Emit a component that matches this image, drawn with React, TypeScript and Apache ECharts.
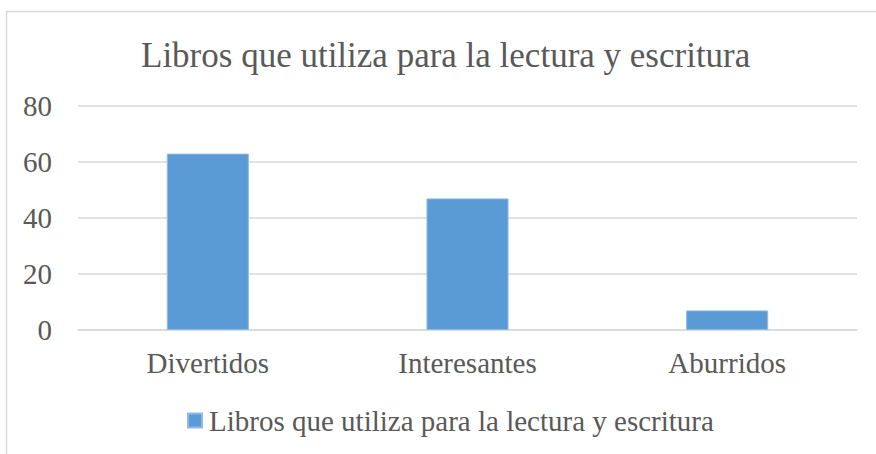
import React, { useEffect, useRef } from "react";
import * as echarts from "echarts";

const categories = ["Divertidos", "Interesantes", "Aburridos"];
const values = [63, 47, 7];
const seriesName = "Libros que utiliza para la lectura y escritura";
const titleText = "Libros que utiliza para la lectura y escritura";

export default function App() {
  const ref = useRef<HTMLDivElement>(null);
  useEffect(() => {
    if (!ref.current) return;
    const chart = echarts.init(ref.current, null, { renderer: "svg" });
    const font = "Liberation Serif";
    chart.setOption({
      animation: false,
      backgroundColor: "#ffffff",
      textStyle: { fontFamily: font },
      title: {
        text: titleText,
        left: 136,
        top: 33,
        textStyle: { fontFamily: font, fontSize: 35, fontWeight: "normal", color: "#595959" },
      },
      graphic: [
        {
          type: "rect",
          shape: { x: 6.5, y: 11.5, width: 900, height: 500 },
          style: { fill: "none", stroke: "#d9d9d9", lineWidth: 1.5 },
          silent: true,
          z: -1,
        },
      ],
      legend: {
        bottom: 14,
        left: 182,
        itemWidth: 14,
        itemHeight: 14,
        itemGap: 8,
        icon: "rect",
        textStyle: { fontFamily: font, fontSize: 29, color: "#595959", padding: [0, 0, 0, 2] },
        data: [seriesName],
      },
      grid: { left: 78, right: 19, top: 106, bottom: 124 },
      xAxis: {
        type: "category",
        data: categories,
        axisLine: { show: true, lineStyle: { color: "#d9d9d9", width: 1.5 } },
        axisTick: { show: false },
        axisLabel: { fontFamily: font, fontSize: 29, color: "#595959", margin: 18 },
      },
      yAxis: {
        type: "value",
        min: 0,
        max: 80,
        interval: 20,
        axisLine: { show: false },
        axisTick: { show: false },
        splitLine: { lineStyle: { color: "#d9d9d9", width: 1.5 } },
        axisLabel: { fontFamily: font, fontSize: 29, color: "#595959", margin: 26 },
      },
      series: [
        {
          name: seriesName,
          type: "bar",
          data: values,
          barWidth: "31.6%",
          itemStyle: { color: "#5b9bd5", borderColor: "#8fbbe3", borderWidth: 1 },
        },
      ],
    });
    return () => chart.dispose();
  }, []);
  return (
    <div
      ref={ref}
      style={{ position: "fixed", left: 0, top: 0, width: 876, height: 454 }}
    />
  );
}
